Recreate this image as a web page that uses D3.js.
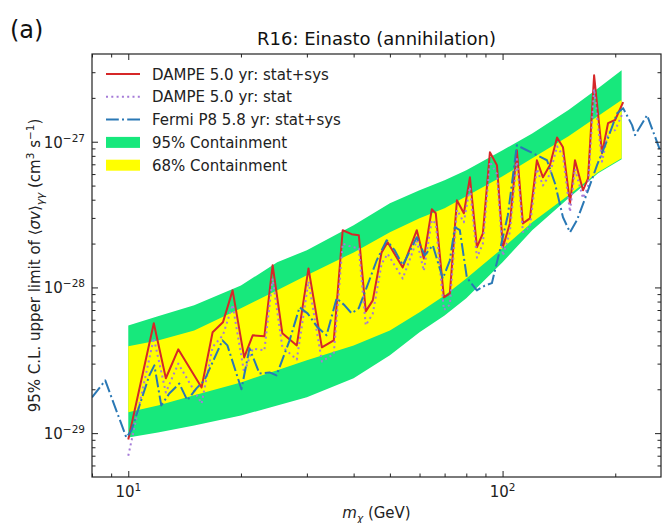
<!DOCTYPE html>
<html>
<head>
<meta charset="utf-8">
<script src="https://cdn.jsdelivr.net/npm/d3@7"></script>
<style>
	body { margin: 0; background: #fff; }
	svg { display: block; font-family: 'DejaVu Sans', sans-serif; }
</style>
</head>
<body>
<div class="chart"></div>
<script>
// DAMPE 5.0 yr limits (GeV, cm^3 s^-1)
const DAMPE_MASS = [10.0, 11.7, 12.6, 13.6, 15.7, 16.8, 17.9, 19.0, 20.4, 21.5, 23.1, 24.3, 25.8, 28.2, 30.3, 32.9, 35.4, 37.4, 39.5, 41.3, 43.1, 45.0, 47.5, 49.3, 54.1, 59.0, 61.6, 64.7, 66.3, 69.7, 72.3, 75.5, 78.8, 81.8, 85.4, 88.6, 92.5, 96.6, 100.2, 104.6, 109.2, 113.3, 118.3, 123.5, 128.2, 133.8, 139.8, 145.0, 151.4, 156.1, 164.0, 169.2, 175.6, 184.4, 191.3, 199.8, 210.0];
const DAMPE_SYS = [9.05e-30, 5.67e-29, 2.38e-29, 3.76e-29, 2.06e-29, 4.92e-29, 5.76e-29, 9.55e-29, 3.31e-29, 4.69e-29, 4.62e-29, 1.42e-28, 4.84e-29, 4.0e-29, 1.35e-28, 3.88e-29, 4.33e-29, 2.47e-28, 2.32e-28, 2.28e-28, 6.85e-29, 8.15e-29, 1.74e-28, 2.04e-28, 1.37e-28, 2.47e-28, 1.58e-28, 3.44e-28, 3.23e-28, 8.55e-29, 9.11e-29, 3.96e-28, 3.23e-28, 5.70e-28, 1.89e-28, 2.35e-28, 8.47e-28, 6.90e-28, 1.89e-28, 2.75e-28, 8.74e-28, 2.75e-28, 2.98e-28, 7.46e-28, 5.70e-28, 6.90e-28, 1.07e-27, 9.17e-28, 3.78e-28, 7.46e-28, 4.64e-28, 5.61e-28, 2.86e-27, 8.34e-28, 1.34e-27, 1.41e-27, 1.87e-27];
const DAMPE_STAT = [7.0e-30, 4.5e-29, 1.9e-29, 3.0e-29, 1.6e-29, 3.9e-29, 4.7e-29, 7.6e-29, 2.6e-29, 3.8e-29, 3.7e-29, 1.15e-28, 3.9e-29, 3.2e-29, 1.1e-28, 3.1e-29, 3.5e-29, 2.0e-28, 1.9e-28, 1.85e-28, 5.5e-29, 6.6e-29, 1.45e-28, 1.7e-28, 1.15e-28, 2.1e-28, 1.3e-28, 2.9e-28, 2.75e-28, 7.0e-29, 7.6e-29, 3.4e-28, 2.8e-28, 4.9e-28, 1.6e-28, 2.0e-28, 7.3e-28, 6.0e-28, 1.65e-28, 2.4e-28, 7.6e-28, 2.4e-28, 2.6e-28, 6.5e-28, 5.0e-28, 6.0e-28, 9.3e-28, 8.0e-28, 3.3e-28, 6.5e-28, 4.1e-28, 4.9e-28, 2.3e-27, 7.3e-28, 1.15e-27, 1.2e-27, 1.6e-27];

// Fermi P8 5.8 yr limit
const FERMI_MASS = [8.0, 8.68, 9.88, 10.19, 11.38, 11.74, 12.25, 12.87, 13.69, 14.38, 15.21, 15.97, 17.85, 18.4, 20.06, 21.08, 22.41, 23.84, 24.89, 26.97, 28.68, 30.13, 32.04, 33.87, 36.03, 37.84, 39.52, 41.27, 43.34, 46.09, 49.01, 51.48, 54.1, 58.98, 61.96, 65.1, 69.23, 72.28, 74.55, 76.88, 80.27, 85.36, 89.67, 93.62, 98.35, 103.3, 109.2, 116.1, 123.5, 131.4, 138.0, 145.0, 151.4, 158.0, 168.1, 178.8, 190.2, 202.3, 209.9, 221.8, 225.9, 243.3, 265.2];
const FERMI_LIMIT = [1.76e-29, 2.30e-29, 9.34e-30, 1.04e-29, 2.49e-29, 2.92e-29, 1.55e-29, 1.87e-29, 2.19e-29, 1.68e-29, 2.03e-29, 2.30e-29, 4.33e-29, 4.0e-29, 2.0e-29, 3.82e-29, 2.57e-29, 2.61e-29, 2.49e-29, 4.33e-29, 7.30e-29, 6.64e-29, 5.32e-29, 4.69e-29, 8.42e-29, 7.54e-29, 6.64e-29, 7.19e-29, 1.0e-28, 1.53e-28, 2.11e-28, 1.80e-28, 1.42e-28, 2.21e-28, 1.66e-28, 1.95e-28, 1.15e-28, 1.53e-28, 2.59e-28, 2.47e-28, 1.17e-28, 9.55e-29, 1.03e-28, 1.07e-28, 1.80e-28, 3.13e-28, 9.46e-28, 8.74e-28, 8.08e-28, 7.46e-28, 5.19e-28, 3.03e-28, 2.39e-28, 2.89e-28, 4.43e-28, 6.90e-28, 1.02e-27, 1.57e-27, 1.70e-27, 1.30e-27, 1.11e-27, 1.52e-27, 8.34e-28];

// expected sensitivity bands
const BAND_MASS = [10, 12, 15, 20, 25, 30, 40, 50, 60, 70, 80, 100, 120, 150, 180, 208];
const BAND95_HI = [5.49e-29, 6.33e-29, 7.54e-29, 1.03e-28, 1.49e-28, 1.80e-28, 2.67e-28, 3.78e-28, 4.64e-28, 5.44e-28, 6.37e-28, 8.74e-28, 1.14e-27, 1.65e-27, 2.33e-27, 3.10e-27];
const BAND68_HI = [3.94e-29, 4.33e-29, 5.07e-29, 7.19e-29, 9.55e-29, 1.21e-28, 1.74e-28, 2.39e-28, 2.98e-28, 3.49e-28, 4.22e-28, 5.79e-28, 7.70e-28, 1.09e-27, 1.50e-27, 1.93e-27];
const BAND68_LO = [1.39e-29, 1.55e-29, 1.82e-29, 2.23e-29, 2.70e-29, 3.16e-29, 4.0e-29, 5.07e-29, 6.75e-29, 8.82e-29, 1.15e-28, 1.86e-28, 2.80e-28, 4.29e-28, 6.17e-28, 7.70e-28];
const BAND95_LO = [9.34e-30, 1.01e-29, 1.13e-29, 1.32e-29, 1.55e-29, 1.76e-29, 2.38e-29, 3.42e-29, 4.92e-29, 6.43e-29, 8.42e-29, 1.49e-28, 2.47e-28, 4.09e-28, 6.07e-28, 7.58e-28];

const X_MAJOR = [10, 100];
const X_MINOR = [8, 9, 20, 30, 40, 50, 60, 70, 80, 90, 200];
const Y_MAJOR = [1e-29, 1e-28, 1e-27];
const Y_MINOR = [6e-30, 7e-30, 8e-30, 9e-30, 2e-29, 3e-29, 4e-29, 5e-29, 6e-29, 7e-29, 8e-29, 9e-29, 2e-28, 3e-28, 4e-28, 5e-28, 6e-28, 7e-28, 8e-28, 9e-28, 2e-27, 3e-27];

const LEGEND = [
	{ label: 'DAMPE 5.0 yr: stat+sys', type: 'sys' },
	{ label: 'DAMPE 5.0 yr: stat', type: 'stat' },
	{ label: 'Fermi P8 5.8 yr: stat+sys', type: 'fermi' },
	{ label: '95% Containment', type: 'band95' },
	{ label: '68% Containment', type: 'band68' }
];

const WIDTH = 666;
const HEIGHT = 523;
const MARGIN = { top: 54, right: 5, bottom: 46, left: 92 };
const FONT_SIZE = 15;

const COLORS = {
	sys: '#d62728',
	stat: '#a57bd8',
	fermi: '#2a78b5',
	band95: '#17e87c',
	band68: '#ffff00'
};
const DASH = { sys: null, stat: '2,3.3', fermi: '12.8,3.2,2,3.2' };

const chartWidth = WIDTH - MARGIN.left - MARGIN.right;
const chartHeight = HEIGHT - MARGIN.top - MARGIN.bottom;

const scale = {
	x: d3.scaleLog().domain([8, 265]).range([0, chartWidth]),
	y: d3.scaleLog().domain([5e-30, 4e-27]).range([chartHeight, 0])
};

const svg = d3
	.select('.chart')
	.append('svg')
	.attr('width', WIDTH)
	.attr('height', HEIGHT);

const g = svg
	.append('g')
	.attr('transform', `translate(${MARGIN.left}, ${MARGIN.top})`);

function drawBands() {
	const rows = BAND_MASS.map((m, i) => ({
		m,
		lo95: BAND95_LO[i],
		hi95: BAND95_HI[i],
		lo68: BAND68_LO[i],
		hi68: BAND68_HI[i]
	}));

	const area95 = d3
		.area()
		.x(d => scale.x(d.m))
		.y0(d => scale.y(d.lo95))
		.y1(d => scale.y(d.hi95));

	const area68 = d3
		.area()
		.x(d => scale.x(d.m))
		.y0(d => scale.y(d.lo68))
		.y1(d => scale.y(d.hi68));

	g.append('path').datum(rows).attr('d', area95).attr('fill', COLORS.band95);
	g.append('path').datum(rows).attr('d', area68).attr('fill', COLORS.band68);
}

function drawLines() {
	g
		.append('clipPath')
		.attr('id', 'clip')
		.append('rect')
		.attr('width', chartWidth)
		.attr('height', chartHeight);

	const line = d3
		.line()
		.x(d => scale.x(d[0]))
		.y(d => scale.y(d[1]));

	const series = [
		{ type: 'sys', data: d3.zip(DAMPE_MASS, DAMPE_SYS) },
		{ type: 'stat', data: d3.zip(DAMPE_MASS, DAMPE_STAT) },
		{ type: 'fermi', data: d3.zip(FERMI_MASS, FERMI_LIMIT) }
	];

	g
		.append('g')
		.attr('clip-path', 'url(#clip)')
		.selectAll('path')
		.data(series)
		.enter()
		.append('path')
		.attr('d', d => line(d.data))
		.attr('fill', 'none')
		.attr('stroke', d => COLORS[d.type])
		.attr('stroke-width', 2)
		.attr('stroke-linejoin', 'round')
		.attr('stroke-dasharray', d => DASH[d.type]);
}

function tickAxis(axisFn, s, values, size) {
	return axisFn(s)
		.tickValues(values)
		.tickSizeInner(-size)
		.tickSizeOuter(0)
		.tickFormat('');
}

function drawAxes() {
	const sides = [
		{ fn: d3.axisBottom, s: scale.x, pos: `translate(0, ${chartHeight})`, major: X_MAJOR, minor: X_MINOR },
		{ fn: d3.axisTop, s: scale.x, pos: 'translate(0, 0)', major: X_MAJOR, minor: X_MINOR },
		{ fn: d3.axisLeft, s: scale.y, pos: 'translate(0, 0)', major: Y_MAJOR, minor: Y_MINOR },
		{ fn: d3.axisRight, s: scale.y, pos: `translate(${chartWidth}, 0)`, major: Y_MAJOR, minor: Y_MINOR }
	];

	sides.forEach(side => {
		[[side.major, 6], [side.minor, 3.5]].forEach(([values, size]) => {
			const ax = g
				.append('g')
				.attr('transform', side.pos)
				.call(tickAxis(side.fn, side.s, values, size));
			ax.select('.domain').remove();
			ax.selectAll('line').attr('stroke', '#222').attr('stroke-width', 1);
		});
	});

	g
		.append('rect')
		.attr('width', chartWidth)
		.attr('height', chartHeight)
		.attr('fill', 'none')
		.attr('stroke', '#222')
		.attr('stroke-width', 1.2);

	// x tick labels 10^n
	X_MAJOR.forEach(v => {
		const t = g
			.append('text')
			.attr('x', scale.x(v))
			.attr('y', chartHeight + 20)
			.attr('text-anchor', 'middle')
			.attr('font-size', FONT_SIZE)
			.attr('fill', '#222')
			.text('10');
		t
			.append('tspan')
			.attr('dy', -6)
			.attr('font-size', FONT_SIZE * 0.7)
			.text(Math.round(Math.log10(v)));
	});

	Y_MAJOR.forEach(v => {
		const t = g
			.append('text')
			.attr('x', -7)
			.attr('y', scale.y(v) + 6)
			.attr('text-anchor', 'end')
			.attr('font-size', FONT_SIZE)
			.attr('fill', '#222')
			.text('10');
		t
			.append('tspan')
			.attr('dy', -6)
			.attr('font-size', FONT_SIZE * 0.7)
			.text('\u2212' + Math.abs(Math.round(Math.log10(v))));
	});
}

function drawLabels() {
	svg
		.append('text')
		.attr('x', 10)
		.attr('y', 38)
		.attr('font-size', 24)
		.attr('fill', '#111')
		.text('(a)');

	svg
		.append('text')
		.attr('x', MARGIN.left + chartWidth / 2)
		.attr('y', 45)
		.attr('text-anchor', 'middle')
		.attr('font-size', 18)
		.attr('fill', '#111')
		.text('R16: Einasto (annihilation)');

	const xl = svg
		.append('text')
		.attr('x', MARGIN.left + chartWidth / 2)
		.attr('y', 518)
		.attr('text-anchor', 'middle')
		.attr('font-size', FONT_SIZE)
		.attr('fill', '#222');
	xl.append('tspan').attr('font-style', 'italic').text('m');
	xl.append('tspan').attr('font-style', 'italic').attr('font-size', FONT_SIZE * 0.7).attr('dy', 4).text('\u03c7');
	xl.append('tspan').attr('dy', -4).text(' (GeV)');

	const yl = svg
		.append('text')
		.attr('transform', `translate(40, ${MARGIN.top + chartHeight / 2}) rotate(-90)`)
		.attr('text-anchor', 'middle')
		.attr('font-size', FONT_SIZE)
		.attr('fill', '#222');
	yl.append('tspan').text('95% C.L. upper limit of \u27e8');
	yl.append('tspan').attr('font-style', 'italic').text('\u03c3v');
	yl.append('tspan').text('\u27e9');
	yl.append('tspan').attr('font-style', 'italic').attr('font-size', FONT_SIZE * 0.7).attr('dy', 4).text('\u03b3\u03b3');
	yl.append('tspan').attr('dy', -4).text(' (cm');
	yl.append('tspan').attr('font-size', FONT_SIZE * 0.7).attr('dy', -6).text('3');
	yl.append('tspan').attr('dy', 6).text(' s');
	yl.append('tspan').attr('font-size', FONT_SIZE * 0.7).attr('dy', -6).text('\u22121');
	yl.append('tspan').attr('dy', 6).text(')');
}

function drawLegend() {
	const row = g
		.append('g')
		.attr('transform', 'translate(14, 20)')
		.selectAll('g')
		.data(LEGEND)
		.enter()
		.append('g')
		.attr('transform', (d, i) => `translate(0, ${i * 22.8})`);

	row
		.filter(d => d.type.startsWith('band'))
		.append('rect')
		.attr('y', -5.5)
		.attr('width', 34)
		.attr('height', 11)
		.attr('fill', d => COLORS[d.type]);

	row
		.filter(d => !d.type.startsWith('band'))
		.append('line')
		.attr('x2', 34)
		.attr('stroke', d => COLORS[d.type])
		.attr('stroke-width', 2)
		.attr('stroke-dasharray', d => DASH[d.type]);

	row
		.append('text')
		.attr('x', 46)
		.attr('y', 5.5)
		.attr('font-size', FONT_SIZE)
		.attr('fill', '#222')
		.text(d => d.label);
}

drawBands();
drawLines();
drawAxes();
drawLabels();
drawLegend();
</script>
</body>
</html>
